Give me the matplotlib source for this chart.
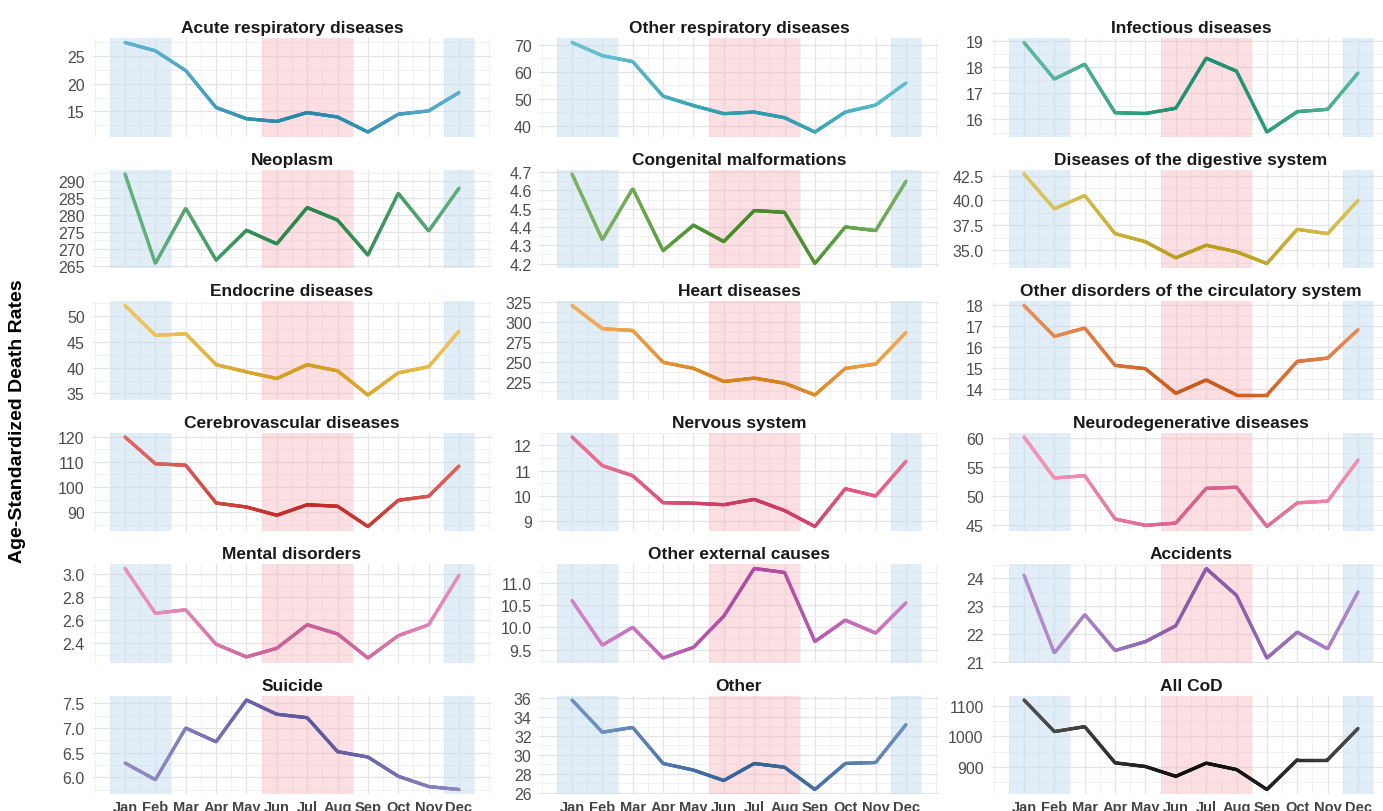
import numpy as np
import matplotlib.pyplot as plt
from matplotlib.collections import LineCollection
from matplotlib.colors import to_rgb
from matplotlib.ticker import MultipleLocator, FormatStrFormatter

plt.rcParams['font.family'] = ['Liberation Sans', 'DejaVu Sans']

# months and monthly age-standardized death rates per cause
months = ['Jan', 'Feb', 'Mar', 'Apr', 'May', 'Jun', 'Jul', 'Aug', 'Sep', 'Oct', 'Nov', 'Dec']

acute_resp = [27.4, 25.9, 22.35, 15.7, 13.7, 13.2, 14.8, 14.0, 11.3, 14.5, 15.1, 18.4]
other_resp = [70.9, 66.0, 63.8, 51.0, 47.5, 44.5, 45.1, 43.0, 37.7, 45.1, 47.7, 55.9]
infectious = [18.95, 17.55, 18.12, 16.26, 16.23, 16.43, 18.35, 17.85, 15.52, 16.3, 16.39, 17.78]
neoplasm = [292.1, 265.7, 282.0, 266.7, 275.5, 271.5, 282.2, 278.5, 268.2, 286.4, 275.3, 287.9]
congenital = [4.69, 4.33, 4.61, 4.27, 4.41, 4.32, 4.49, 4.48, 4.20, 4.40, 4.38, 4.65]
digestive = [42.66, 39.16, 40.5, 36.66, 35.85, 34.23, 35.5, 34.84, 33.66, 37.1, 36.66, 40.0]
endocrine = [52.1, 46.3, 46.6, 40.6, 39.2, 37.9, 40.6, 39.4, 34.7, 39.0, 40.2, 47.1]
heart = [320.8, 291.5, 289.3, 249.2, 241.6, 225.0, 229.3, 222.9, 208.0, 241.6, 247.0, 286.8]
other_circ = [18.0, 16.52, 16.92, 15.13, 14.97, 13.79, 14.43, 13.71, 13.71, 15.32, 15.48, 16.84]
cerebrovascular = [120.0, 109.3, 108.7, 93.6, 92.0, 88.7, 92.9, 92.3, 84.2, 94.7, 96.3, 108.4]
nervous = [12.33, 11.2, 10.8, 9.74, 9.72, 9.66, 9.87, 9.43, 8.8, 10.29, 10.0, 11.37]
neurodegen = [60.2, 53.1, 53.5, 46.0, 44.9, 45.3, 51.3, 51.5, 44.7, 48.8, 49.1, 56.2]
mental = [3.05, 2.66, 2.69, 2.39, 2.28, 2.355, 2.56, 2.48, 2.27, 2.465, 2.56, 2.99]
other_external = [10.6, 9.6, 10.0, 9.31, 9.55, 10.25, 11.32, 11.23, 9.68, 10.16, 9.87, 10.55]
accidents = [24.12, 21.32, 22.7, 21.41, 21.73, 22.3, 24.36, 23.39, 21.14, 22.07, 21.47, 23.52]
suicide = [6.29, 5.95, 7.0, 6.72, 7.57, 7.28, 7.21, 6.52, 6.41, 6.02, 5.81, 5.75]
other = [35.8, 32.4, 32.9, 29.1, 28.4, 27.3, 29.1, 28.7, 26.35, 29.1, 29.2, 33.2]
all_cod = [1119, 1016, 1032, 914, 902, 870, 913, 892, 827, 924, 924, 1026]

titles = ['Acute respiratory diseases', 'Other respiratory diseases', 'Infectious diseases',
          'Neoplasm', 'Congenital malformations', 'Diseases of the digestive system',
          'Endocrine diseases', 'Heart diseases', 'Other disorders of the circulatory system',
          'Cerebrovascular diseases', 'Nervous system', 'Neurodegenerative diseases',
          'Mental disorders', 'Other external causes', 'Accidents',
          'Suicide', 'Other', 'All CoD']
series = [acute_resp, other_resp, infectious, neoplasm, congenital, digestive,
          endocrine, heart, other_circ, cerebrovascular, nervous, neurodegen,
          mental, other_external, accidents, suicide, other, all_cod]
colors = ['#2b98bd', '#33adc0', '#23a07e', '#2f9656', '#4f9a2e', '#cfb020',
          '#ebb024', '#ec8f1e', '#e2651f', '#d5322c', '#e2406c', '#ee6e9c',
          '#e06aa8', '#c355b5', '#9966bb', '#6a62b0', '#3e6eaa', '#111111']
tick_step = [5, 10, 1, 5, 0.1, 2.5, 5, 25, 1, 10, 1, 5, 0.2, 0.5, 1, 0.5, 2, 100]
decimals = [0, 0, 0, 0, 1, 1, 0, 0, 0, 0, 0, 0, 1, 1, 0, 1, 0, 0]

W, H = 1383, 812
fig = plt.figure(figsize=(W / 100, H / 100), dpi=100)

col_left = [91.6, 538.6, 990.6]
ax_w = 400.8
row_top = [39, 170.5, 302, 433.5, 565, 696.5]
ax_h = 98.5

x = np.arange(1, 13)


def seasonal_line(ax, xs, ys, base):
    # lighter in winter, full/darker tone in summer
    base = np.array(to_rgb(base))
    light = base + (1 - base) * 0.25
    dark = base * 0.9
    xf = np.linspace(xs[0], xs[-1], 400)
    yf = np.interp(xf, xs, ys)
    pts = np.column_stack([xf, yf]).reshape(-1, 1, 2)
    segs = np.concatenate([pts[:-1], pts[1:]], axis=1)
    xm = 0.5 * (xf[:-1] + xf[1:])
    d = 0.5 - 0.5 * np.cos(2 * np.pi * (xm - 1) / 12)
    cols = light[None, :] + (dark - light)[None, :] * d[:, None]
    lc = LineCollection(segs, colors=cols, linewidths=2.4, capstyle='round', joinstyle='round', zorder=3)
    ax.add_collection(lc)


for i, (title, ys) in enumerate(zip(titles, series)):
    r, c = divmod(i, 3)
    ax = fig.add_axes([col_left[c] / W, 1 - (row_top[r] + ax_h) / H, ax_w / W, ax_h / H])

    # winter / summer bands
    ax.axvspan(0.5, 2.5, color='#c6dff0', alpha=0.5, lw=0, zorder=1)
    ax.axvspan(11.5, 12.5, color='#c6dff0', alpha=0.5, lw=0, zorder=1)
    ax.axvspan(5.5, 8.5, color='#f8b8c0', alpha=0.45, lw=0, zorder=1)

    seasonal_line(ax, x, ys, colors[i])

    lo, hi = min(ys), max(ys)
    pad = 0.05 * (hi - lo)
    ax.set_ylim(lo - pad, hi + pad)
    ax.set_xlim(-0.1, 13.1)

    step = tick_step[i]
    ax.yaxis.set_major_locator(MultipleLocator(step))
    ax.yaxis.set_minor_locator(MultipleLocator(step / 2))
    ax.yaxis.set_major_formatter(FormatStrFormatter('%%.%df' % decimals[i]))
    ax.set_xticks(x)
    ax.set_xticks([v for v in np.arange(0, 13.5, 0.5) if v not in x], minor=True)

    ax.grid(which='major', color='#e4e4e4', lw=0.9, zorder=0)
    ax.grid(which='minor', color='#efefef', lw=0.6, zorder=0)
    ax.set_axisbelow(True)

    for s in ax.spines.values():
        s.set_visible(False)
    ax.tick_params(which='both', length=0)
    ax.tick_params(axis='y', labelsize=11.5, labelcolor='#4d4d4d', pad=5)

    if r == 5:
        ax.set_xticklabels(months, fontsize=10.5, fontweight='bold', color='#444444')
        ax.tick_params(axis='x', pad=4)
    else:
        ax.tick_params(axis='x', labelbottom=False)

    ax.set_title(title, fontsize=12.5, fontweight='bold', color='#1a1a1a', pad=4)

fig.text(18 / W, 1 - 421 / H, 'Age-Standardized Death Rates', rotation=90,
         ha='center', va='center', fontsize=14, fontweight='bold')

fig.savefig('out.png', dpi=100)
